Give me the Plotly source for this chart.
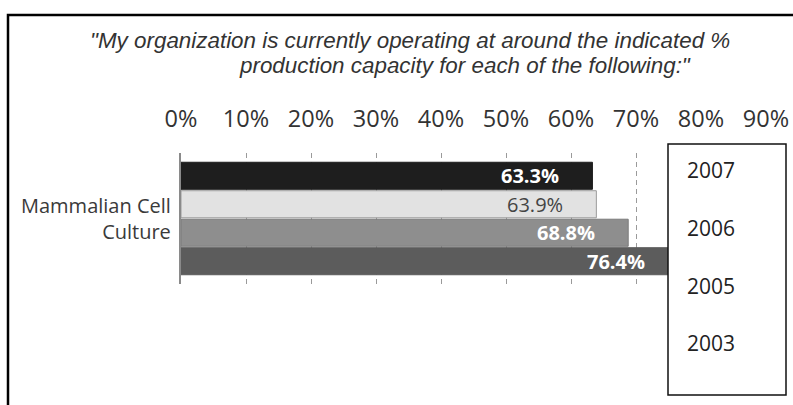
import plotly.graph_objects as go

# Survey data: % production capacity, Mammalian Cell Culture
years = ["2007", "2006", "2005", "2003"]
capacity = [63.3, 63.9, 68.8, 76.4]
bar_colors = ["#1e1e1e", "#e2e2e2", "#8e8e8e", "#5c5c5c"]
bar_edges = ["#1e1e1e", "#9a9a9a", "#7a7a7a", "#5c5c5c"]
label_colors = ["#ffffff", "#444444", "#ffffff", "#ffffff"]
label_bold = [True, False, True, True]
category = "Mammalian Cell<br>Culture"
x_ticks = list(range(0, 100, 10))
x_tick_text = [f"{t}%" for t in x_ticks]
title_lines = [
    "\"My organization is currently operating at around the indicated %",
    "production capacity for each of the following:\"",
]

W, H = 793, 405
ML, MR, MT, MB = 181, 27, 153, 121
PW, PH = W - ML - MR, H - MT - MB


def px(x):
    return (x - ML) / PW


def py(y):
    return (H - MB - y) / PH


fig = go.Figure(
    go.Bar(
        y=years,
        x=capacity,
        orientation="h",
        width=0.95,
        marker=dict(color=bar_colors, line=dict(color=bar_edges, width=1)),
        hoverinfo="x+y",
    )
)

# value labels near the end of each bar (category index used for y)
for i, (val, col, bold) in enumerate(zip(capacity, label_colors, label_bold)):
    txt = f"{val:.1f}%"
    fig.add_annotation(
        x=val, y=i, xref="x", yref="y",
        text=f"<b>{txt}</b>" if bold else txt,
        showarrow=False, xanchor="right", xshift=-31,
        font=dict(family="Open Sans", size=20, color=col),
    )

# category label
fig.add_annotation(
    x=px(173), y=1.5, xref="paper", yref="y",
    text=category, showarrow=False, xanchor="right", align="right",
    font=dict(family="Open Sans", size=20, color="#3a3a3a"),
)

# title
fig.add_annotation(
    x=px(88), y=py(41), xref="paper", yref="paper", xanchor="left", yanchor="middle",
    text=f"<i>{title_lines[0]}</i>", showarrow=False,
    font=dict(family="Liberation Sans", size=22.4, color="#333333"),
)
fig.add_annotation(
    x=px(237), y=py(66), xref="paper", yref="paper", xanchor="left", yanchor="middle",
    text=f"<i>{title_lines[1]}</i>", showarrow=False,
    font=dict(family="Liberation Sans", size=22.4, color="#333333"),
)

# legend box with year entries
fig.add_shape(type="rect", xref="paper", yref="paper",
              x0=px(668), x1=px(786), y0=py(144), y1=py(395),
              line=dict(color="#111111", width=1.5), fillcolor="white", layer="above")
legend_y = [170, 228, 286, 343]
for yr, ly in zip(years, legend_y):
    fig.add_annotation(
        x=px(685), y=py(ly), xref="paper", yref="paper", xanchor="left", yanchor="middle",
        text=yr, showarrow=False,
        font=dict(family="Open Sans", size=21, color="#222222"),
    )

# outer frame
fig.add_shape(type="rect", xref="paper", yref="paper",
              x0=px(8), x1=px(805), y0=py(15), y1=py(420),
              line=dict(color="#000000", width=2.5), fillcolor="rgba(0,0,0,0)", layer="above")

fig.update_layout(
    width=W, height=H,
    margin=dict(l=ML, r=MR, t=MT, b=MB, autoexpand=False),
    paper_bgcolor="white", plot_bgcolor="white",
    showlegend=False,
    xaxis=dict(
        range=[0, 90], side="top", tickvals=x_ticks, ticktext=x_tick_text,
        ticks="", ticklabelstandoff=20, automargin=False,
        tickfont=dict(family="Open Sans", size=23.5, color="#333333"),
        showgrid=True, gridcolor="#9a9a9a", griddash="5px,4px", gridwidth=1,
        zeroline=False, showline=False, fixedrange=True,
    ),
    yaxis=dict(
        type="category", categoryorder="array", categoryarray=years,
        range=[3.8, -0.8], showticklabels=False, ticks="", automargin=False,
        showgrid=False, zeroline=False,
        showline=True, linecolor="#8a8a8a", linewidth=2, fixedrange=True,
    ),
)

fig.write_html("out.html")
